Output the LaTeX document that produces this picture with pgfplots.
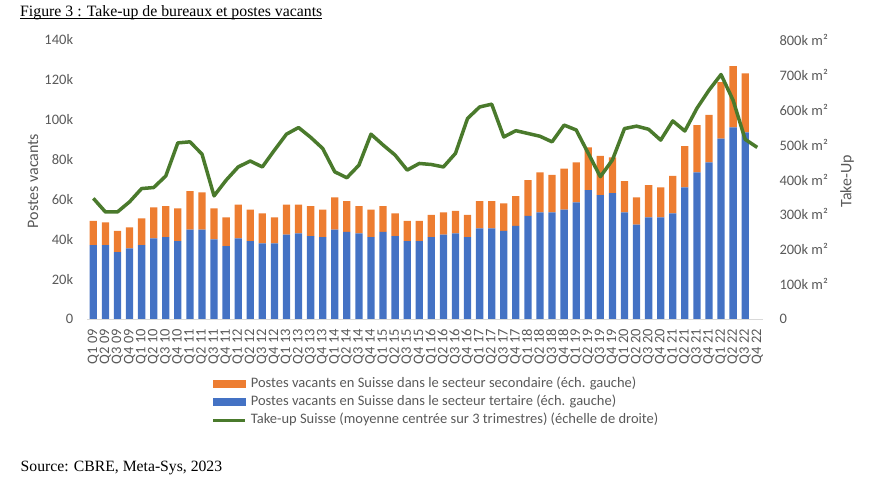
\documentclass[border=0pt]{standalone}
\usepackage{pgfplots}
\pgfplotsset{compat=1.18}
\usepackage{pgfplotstable}
\usepackage{fontspec}
\setmainfont{Liberation Serif}
\newfontfamily\calibri{Carlito}
\definecolor{cOrange}{HTML}{ED7D31}
\definecolor{cBlue}{HTML}{4472C4}
\definecolor{cGreen}{HTML}{4A7A2C}
\definecolor{cText}{HTML}{595959}
\definecolor{cAxis}{HTML}{D9D9D9}

\pgfplotstableread{
i tert sec
0 37.1 12.1
1 37.1 11.4
2 33.6 10.6
3 35.5 10.5
4 37.1 13.4
5 40.5 15.5
6 41.1 15.6
7 39.1 16.4
8 44.8 19.4
9 44.8 18.8
10 40.0 15.5
11 36.6 14.4
12 40.5 16.9
13 39.1 15.8
14 38.0 15.0
15 38.0 13.0
16 42.3 15.1
17 43.0 14.4
18 41.6 15.1
19 41.1 13.8
20 44.8 16.2
21 43.7 15.5
22 43.0 13.7
23 41.1 13.8
24 43.7 13.0
25 41.6 11.4
26 39.1 10.1
27 39.1 10.1
28 41.1 11.2
29 42.3 11.2
30 43.0 11.2
31 41.1 11.2
32 45.5 13.7
33 45.5 13.7
34 44.2 13.8
35 46.7 15.0
36 51.7 18.0
37 53.5 20.1
38 53.5 18.8
39 54.9 20.5
40 58.5 20.1
41 64.7 21.4
42 62.2 19.6
43 63.1 18.0
44 53.5 15.7
45 47.3 13.7
46 51.0 16.2
47 51.0 15.1
48 53.0 18.8
49 66.1 20.7
50 73.6 23.7
51 78.6 23.8
52 90.5 28.3
53 96.2 30.7
54 93.7 29.5
}\vacants

\pgfplotstableread{
i takeup
0 346
1 307
2 307
3 336
4 374
5 377
6 410
7 505
8 508
9 473
10 353
11 398
12 436
13 453
14 436
15 484
16 530
17 549
18 521
19 489
20 422
21 405
22 441
23 530
24 499
25 470
26 427
27 446
28 443
29 436
30 475
31 575
32 608
33 616
34 522
35 540
36 532
37 524
38 508
39 556
40 542
41 475
42 408
43 456
44 546
45 553
46 544
47 513
48 568
49 539
50 604
51 656
52 701
53 627
54 515
55 492
}\takeup

\newcommand{\tfont}{\calibri\fontsize{14.5bp}{16bp}\selectfont}

\begin{document}
\begin{tikzpicture}
\path[use as bounding box] (0,0) rectangle (883bp,498bp);

% title
\node[anchor=base west, inner sep=0, font=\fontsize{15.8bp}{18bp}\selectfont] (t) at (20bp,481.5bp) {Figure 3 : Take-up de bureaux et postes vacants};
\draw[line width=0.8bp] ([yshift=-2.4bp]t.base west) -- ([yshift=-2.4bp]t.base east);
% source
\node[anchor=base west, inner sep=0, font=\fontsize{15.7bp}{18bp}\selectfont] at (20.5bp,26.5bp) {Source: CBRE, Meta-Sys, 2023};

\begin{axis}[
  at={(87.3bp,179bp)}, anchor=south west,
  scale only axis, width=676bp, height=279bp,
  xmin=-0.5, xmax=55.5, ymin=0, ymax=140,
  ybar stacked, bar width=7.3bp,
  axis x line*=bottom, axis y line*=left,
  x axis line style={draw=cAxis, line width=0.8bp, -},
  y axis line style={draw=none},
  major tick length=0pt,
  xtick={0,...,55},
  xticklabels={Q1 09,Q2 09,Q3 09,Q4 09,Q1 10,Q2 10,Q3 10,Q4 10,Q1 11,Q2 11,Q3 11,Q4 11,Q1 12,Q2 12,Q3 12,Q4 12,Q1 13,Q2 13,Q3 13,Q4 13,Q1 14,Q2 14,Q3 14,Q4 14,Q1 15,Q2 15,Q3 15,Q4 15,Q1 16,Q2 16,Q3 16,Q4 16,Q1 17,Q2 17,Q3 17,Q4 17,Q1 18,Q2 18,Q3 18,Q4 18,Q1 19,Q2 19,Q3 19,Q4 19,Q1 20,Q2 20,Q3 20,Q4 20,Q1 21,Q2 21,Q3 21,Q4 21,Q1 22,Q2 22,Q3 22,Q4 22},
  x tick label style={yshift=-10bp, rotate=90, anchor=east, inner sep=0pt, font=\tfont, text=cText},
  ytick={0,20,40,60,80,100,120,140},
  yticklabels={0,20k,40k,60k,80k,100k,120k,140k},
  y tick label style={anchor=east, inner sep=0pt, xshift=-14bp, font=\tfont, text=cText},
  /pgf/number format/assume math mode=true,
  clip=false,
]
\addplot[fill=cBlue, draw=none] table[x=i, y=tert] {\vacants};
\addplot[fill=cOrange, draw=none] table[x=i, y=sec] {\vacants};
\end{axis}

\begin{axis}[
  at={(87.3bp,179bp)}, anchor=south west,
  scale only axis, width=676bp, height=279bp,
  xmin=-0.5, xmax=55.5, ymin=0, ymax=800,
  axis x line=none, axis y line*=right,
  y axis line style={draw=none},
  major tick length=0pt,
  ytick={0,100,200,300,400,500,600,700,800},
  yticklabels={0,100k m²,200k m²,300k m²,400k m²,500k m²,600k m²,700k m²,800k m²},
  y tick label style={anchor=west, inner sep=0pt, xshift=16bp, font=\tfont, text=cText},
  /pgf/number format/assume math mode=true,
  clip=false,
  legend style={at={(axis description cs:0.184,-0.206)}, anchor=north west,
    draw=none, fill=none, inner sep=0pt, font=\tfont, text=cText,
    nodes={inner xsep=4bp, inner ysep=0pt, text height=10.5bp, text depth=3.5bp},
    row sep=4.3bp, column sep=0pt},
  legend cell align=left,
]
\addlegendimage{legend image code/.code={\fill[cOrange] (0bp,-3.5bp) rectangle (32bp,3.5bp);}}
\addlegendentry{Postes vacants en Suisse dans le secteur secondaire (éch. gauche)}
\addlegendimage{legend image code/.code={\fill[cBlue] (0bp,-3.5bp) rectangle (32bp,3.5bp);}}
\addlegendentry{Postes vacants en Suisse dans le secteur tertaire (éch. gauche)}
\addlegendimage{legend image code/.code={\draw[cGreen, line width=3bp] (0bp,0bp) -- (32bp,0bp);}}
\addlegendentry{Take-up Suisse (moyenne centrée sur 3 trimestres) (échelle de droite)}
\addplot[cGreen, line width=3.5bp, line join=round, mark=none] table[x=i, y=takeup] {\takeup};
\end{axis}

\node[rotate=90, font=\calibri\fontsize{16bp}{18bp}\selectfont, text=cText, inner sep=0] at (33bp,317bp) {Postes vacants};
\node[rotate=90, font=\calibri\fontsize{16bp}{18bp}\selectfont, text=cText, inner sep=0] at (847bp,317bp) {Take-Up};
\end{tikzpicture}
\end{document}
